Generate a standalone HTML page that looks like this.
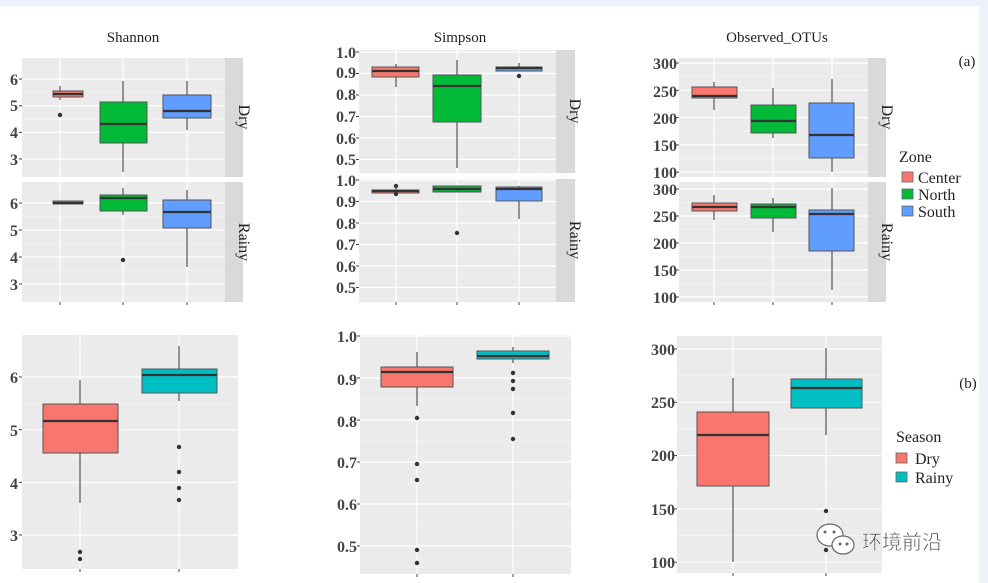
<!DOCTYPE html>
<html><head><meta charset="utf-8"><style>
html,body{margin:0;padding:0;background:#fff}
svg{display:block}
text{font-family:"Liberation Serif",serif}
.t{font-size:16px;fill:#444;font-weight:bold;text-anchor:end}
.ti{font-size:15px;fill:#222;text-anchor:middle}
.st{font-size:16px;fill:#222;text-anchor:middle}
.lg{font-size:16px;fill:#222}
</style></head><body>
<svg id="s" width="988" height="583" xmlns="http://www.w3.org/2000/svg">
<rect x="0" y="0" width="988" height="583" fill="#fff"/>
<rect x="0" y="0" width="988" height="6" fill="#eef2fa"/>
<rect x="979" y="0" width="9" height="583" fill="#eef2fa"/>
<g id="g"></g>
<g id="txt">
<text class="ti" x="133" y="42">Shannon</text>
<text class="ti" x="460" y="42">Simpson</text>
<text class="ti" x="777" y="42">Observed_OTUs</text>
<text class="ti" x="967" y="66">(a)</text>
<text class="ti" x="968" y="388">(b)</text>
<text class="t" x="18" y="85">6</text><text class="t" x="18" y="111">5</text><text class="t" x="18" y="138">4</text><text class="t" x="18" y="165">3</text>
<text class="t" x="18" y="209">6</text><text class="t" x="18" y="236">5</text><text class="t" x="18" y="263">4</text><text class="t" x="18" y="290">3</text>
<text class="t" x="356" y="58">1.0</text><text class="t" x="356" y="78">0.9</text><text class="t" x="356" y="100">0.8</text><text class="t" x="356" y="122">0.7</text><text class="t" x="356" y="144">0.6</text><text class="t" x="356" y="165">0.5</text>
<text class="t" x="356" y="186">1.0</text><text class="t" x="356" y="207">0.9</text><text class="t" x="356" y="229">0.8</text><text class="t" x="356" y="250">0.7</text><text class="t" x="356" y="272">0.6</text><text class="t" x="356" y="293">0.5</text>
<text class="t" x="677" y="69">300</text><text class="t" x="677" y="97">250</text><text class="t" x="677" y="124">200</text><text class="t" x="677" y="151">150</text><text class="t" x="677" y="178">100</text>
<text class="t" x="677" y="195">300</text><text class="t" x="677" y="222">250</text><text class="t" x="677" y="249">200</text><text class="t" x="677" y="276">150</text><text class="t" x="677" y="303">100</text>
<text class="t" x="18" y="383">6</text><text class="t" x="18" y="436">5</text><text class="t" x="18" y="489">4</text><text class="t" x="18" y="541">3</text>
<text class="t" x="357" y="342">1.0</text><text class="t" x="357" y="385">0.9</text><text class="t" x="357" y="427">0.8</text><text class="t" x="357" y="468">0.7</text><text class="t" x="357" y="510">0.6</text><text class="t" x="357" y="552">0.5</text>
<text class="t" x="675" y="355">300</text><text class="t" x="675" y="408">250</text><text class="t" x="675" y="461">200</text><text class="t" x="675" y="515">150</text><text class="t" x="675" y="568">100</text>
<text class="st" transform="translate(239,117) rotate(90)">Dry</text>
<text class="st" transform="translate(239,242) rotate(90)">Rainy</text>
<text class="st" transform="translate(570,111) rotate(90)">Dry</text>
<text class="st" transform="translate(570,240) rotate(90)">Rainy</text>
<text class="st" transform="translate(882,117) rotate(90)">Dry</text>
<text class="st" transform="translate(882,242) rotate(90)">Rainy</text>
<text class="lg" x="899" y="162">Zone</text>
<text class="lg" x="918" y="183">Center</text>
<text class="lg" x="918" y="200">North</text>
<text class="lg" x="918" y="217">South</text>
<text class="lg" x="896" y="442">Season</text>
<text class="lg" x="915" y="464">Dry</text>
<text class="lg" x="915" y="483">Rainy</text>
<text x="862" y="549" style="font-family:'Noto Sans CJK SC',sans-serif;font-size:20px;fill:#555;stroke:#fff;stroke-width:0.5">环境前沿</text>
</g>
</svg>
<script>
var g=document.getElementById('g'),NS='http://www.w3.org/2000/svg';
function el(n,a){var e=document.createElementNS(NS,n);for(var k in a)e.setAttribute(k,a[k]);g.appendChild(e);return e;}
function panel(x0,x1,y0,y1,maj,xs,strip){
 el('rect',{x:x0,y:y0,width:x1-x0,height:y1-y0,fill:'#ebebeb'});
 var d=maj[1]-maj[0];
 var mins=[];for(var i=0;i<maj.length;i++){mins.push(maj[i]-d/2);mins.push(maj[i]+d/2);}
 mins.forEach(function(y){if(y>y0&&y<y1)el('line',{x1:x0,x2:x1,y1:y,y2:y,stroke:'#f4f4f4','stroke-width':0.6});});
 maj.forEach(function(y){if(y>=y0&&y<=y1)el('line',{x1:x0,x2:x1,y1:y,y2:y,stroke:'#fff','stroke-width':1.2});
  el('line',{x1:x0-3,x2:x0,y1:y,y2:y,stroke:'#444','stroke-width':1});});
 xs.forEach(function(x){el('line',{x1:x,x2:x,y1:y0,y2:y1,stroke:'#fff','stroke-width':1.2});});
 if(strip)el('rect',{x:x1,y:y0,width:strip,height:y1-y0,fill:'#d9d9d9'});
}
function ticksx(xs,y){xs.forEach(function(x){el('line',{x1:x,x2:x,y1:y,y2:y+3,stroke:'#444'});});}
function box(cx,x0,x1,wt,q3,md,q1,wb,c,out){
 el('line',{x1:cx,x2:cx,y1:wt,y2:wb,stroke:'#555','stroke-width':1.2});
 el('rect',{x:x0,y:q3,width:x1-x0,height:Math.max(q1-q3,1),fill:c,stroke:'#555','stroke-width':1});
 el('line',{x1:x0,x2:x1,y1:md,y2:md,stroke:'#333','stroke-width':2.2});
 (out||[]).forEach(function(y){el('circle',{cx:cx,cy:y,r:2.2,fill:'#333'});});
}
var R='#F8766D',G='#00BA38',B='#619CFF',T='#00BFC4';
var sx=[60,123,187];
panel(22,225,58,177,[79,105.7,132.4,159],sx,18);
panel(22,225,182,302,[203,230,257,284],sx,18);ticksx(sx,302);
box(60,53,83,86,91,94,97,100,R,[115]);
box(123,100,147,81,102,124,143,172,G);
box(187,163,211,81,95,111,118,130,B);
box(60,53,83,201,201,203,204,204,R);
box(123,100,147,188,195,198,211,215,G,[260]);
box(187,163,211,190,200,212,228,267,B);
var px=[396,457,519];
panel(359,556,50,173,[52,73.5,95,116.5,138,159.5],px,19);
panel(359,556,179,302,[180,201.5,223,244.5,266,287.5],px,19);ticksx(px,302);
box(396,372,419,64,67,71,77,87,R);
box(457,433,481,60,75,86,122,168,G);
box(519,496,542,63,67,68,71,71,B,[76]);
box(396,372,419,188,190,191,193,193,R,[186,194]);
box(457,433,481,186,186,189,192,192,G,[233]);
box(519,496,542,186,187,189,201,219,B);
var ox=[714,773,832];
panel(679,868,58,177,[63,90.3,117.6,144.9,172.2],ox,18);
panel(679,868,182,302,[189,216,243,270,297],ox,18);ticksx(ox,302);
box(714,692,737,82,87,96,98,110,R);
box(773,751,796,88,105,121,133,138,G);
box(832,809,854,79,103,135,158,172,B);
box(714,692,737,195,203,207,211,220,R);
box(773,751,796,198,204,207,218,232,G);
box(832,809,854,188,210,214,251,290,B);
var bx=[80,179];
panel(22,238,335,569,[377,429.7,482.4,535],bx,0);ticksx(bx,569);
box(80,43,118,380,404,421,453,503,R,[552,559]);
box(179,142,217,346,369,375,393,401,T,[447,472,488,500]);
var cx=[417,513];
panel(360,571,335,574,[336,378,420,462,504,546],cx,0);ticksx(cx,574);
box(417,381,453,352,367,372,387,406,R,[418,464,480,550,563]);
box(513,477,549,347,351,356,359,363,T,[373,381,389,413,439]);
var dx=[733,826];
panel(677,882,336,573,[349,402.3,455.6,508.9,562.2],dx,0);ticksx(dx,573);
box(733,697,769,378,412,435,486,562,R);
box(826,791,862,348,379,388,408,435,T,[511,550]);
[[178,R],[195,G],[212,B]].forEach(function(a){el('rect',{x:902,y:a[0]-6,width:11,height:10,fill:a[1],stroke:'#666','stroke-width':0.8});});
[[459,R],[478,T]].forEach(function(a){el('rect',{x:896,y:a[0]-6,width:11,height:10,fill:a[1],stroke:'#666','stroke-width':0.8});});
el('ellipse',{cx:830,cy:535,rx:13,ry:11,fill:'#fff',stroke:'#666','stroke-width':1.2});
el('ellipse',{cx:843,cy:545,rx:11,ry:9,fill:'#fff',stroke:'#666','stroke-width':1.2});
[[825,532],[834,532],[840,544],[847,544]].forEach(function(p){el('circle',{cx:p[0],cy:p[1],r:1.5,fill:'#666'});});
g.parentNode.appendChild(document.getElementById('txt'));
</script>
</body></html>
